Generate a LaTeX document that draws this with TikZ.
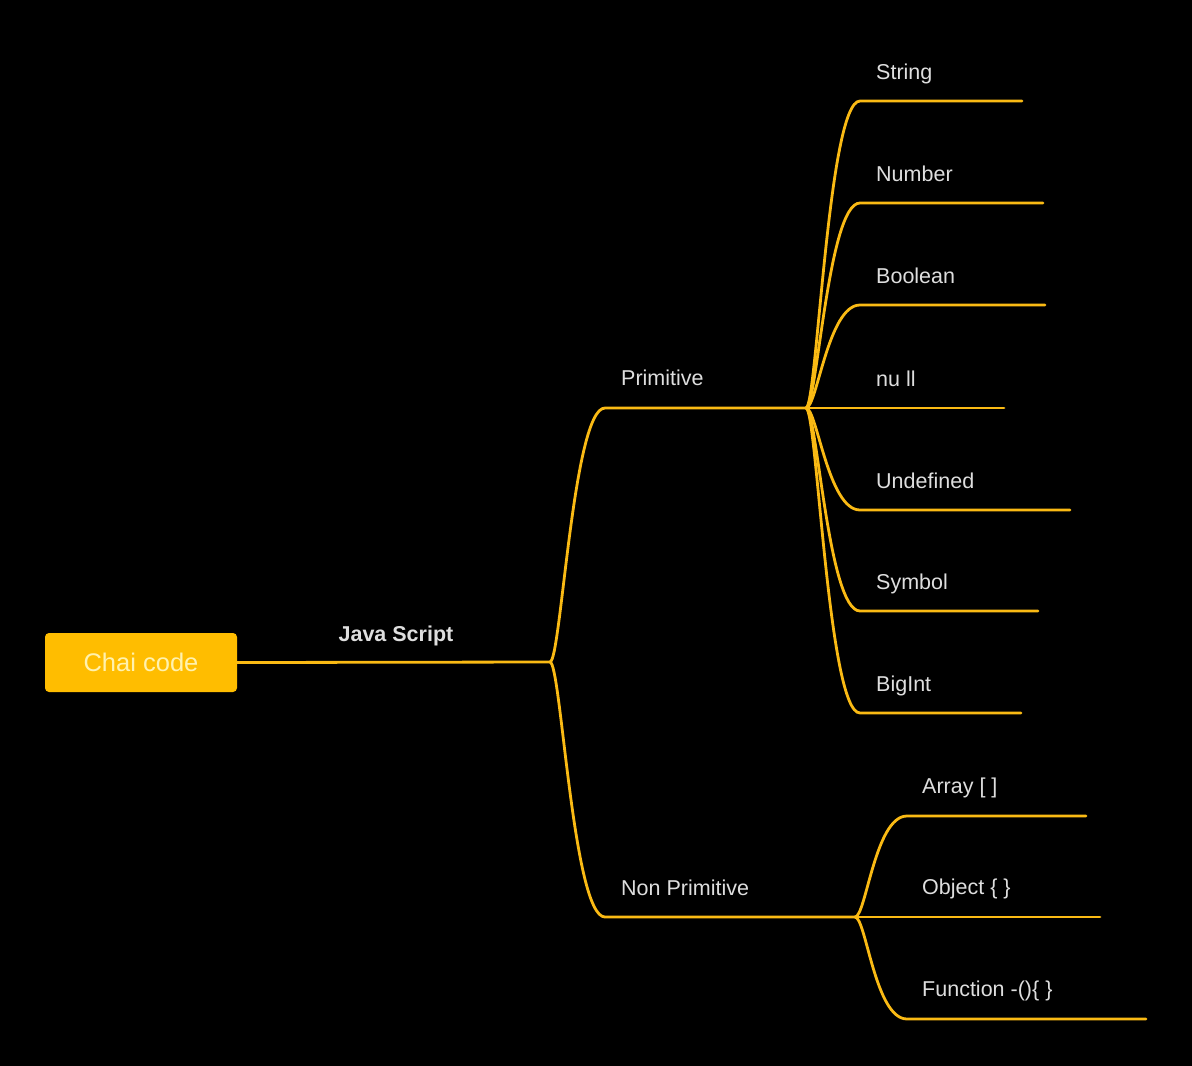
\documentclass[tikz,border=0pt]{standalone}
\usepackage{fontspec}
\setmainfont{Liberation Sans}
\definecolor{branchcol}{RGB}{250,186,20}
\definecolor{boxcol}{RGB}{255,189,0}
\definecolor{boxtext}{RGB}{255,242,175}
\definecolor{labelcol}{RGB}{222,222,222}

\tikzset{
  branch/.style={draw=branchcol, line width=2.8pt, line cap=round},
  rootbox/.style={fill=boxcol, rounded corners=4pt, minimum width=192pt, minimum height=59pt,
    text=boxtext, font=\fontsize{25.5}{30}\selectfont, inner sep=0pt},
  toplabel/.style={text=labelcol, font=\bfseries\fontsize{21.5}{26}\selectfont, anchor=base, inner sep=0pt},
  midlabel/.style={text=labelcol, font=\fontsize{21.5}{26}\selectfont, anchor=base west, inner sep=0pt},
  leaflabel/.style={text=labelcol, font=\fontsize{21.5}{26}\selectfont, anchor=base west, inner sep=0pt}
}

\begin{document}
\begin{tikzpicture}[x=1pt, y=-1pt]

    % Background
    \fill[black] (0,0) rectangle (1192,1066);
    \useasboundingbox (0,0) rectangle (1192,1066);

    % Root
    \node[rootbox] (chai) at (141,662.5) {Chai code};
    \coordinate (jsfork) at (550,662);
    \draw[branch] (chai.east) -- (jsfork);
    \node[toplabel] (js) at (396,641) {Java Script};

    % Primitive and Non Primitive
    \coordinate (prim-s) at (605,408);
    \coordinate (primfork) at (806,408);
    \coordinate (nonprim-s) at (605,917);
    \coordinate (nonprimfork) at (855,917);
    \draw[branch] (jsfork) .. controls +(11,0) and +(-32,0) .. (prim-s) -- (primfork);
    \draw[branch] (jsfork) .. controls +(11,0) and +(-32,0) .. (nonprim-s) -- (nonprimfork);
    \node[midlabel] (prim) at (621,385) {Primitive};
    \node[midlabel] (nonprim) at (621,895) {Non Primitive};

    % Primitive types
    \foreach \y/\xe/\txt/\nm in {101/1022/String/str, 203/1043/Number/num,
        305/1045/Boolean/bool, 408/1004/nu ll/nul, 510/1070/Undefined/undef,
        611/1038/Symbol/sym, 713/1021/BigInt/bigint}{
      \coordinate (\nm-s) at (860,\y);
      \coordinate (\nm-e) at (\xe,\y);
      \draw[branch] (primfork) .. controls +(11,0) and +(-32,0) .. (\nm-s) -- (\nm-e);
      \node[leaflabel] (\nm) at (876,\y-22) {\txt};
    }

    % Non primitive types
    \foreach \y/\xe/\txt/\nm in {816/1086/{Array [ ]}/arr, 917/1100/{Object \{ \}}/obj,
        1019/1146/{Function -()\{ \}}/func}{
      \coordinate (\nm-s) at (907,\y);
      \coordinate (\nm-e) at (\xe,\y);
      \draw[branch] (nonprimfork) .. controls +(11,0) and +(-32,0) .. (\nm-s) -- (\nm-e);
      \node[leaflabel] (\nm) at (922,\y-23) {\txt};
    }

\end{tikzpicture}
\end{document}
